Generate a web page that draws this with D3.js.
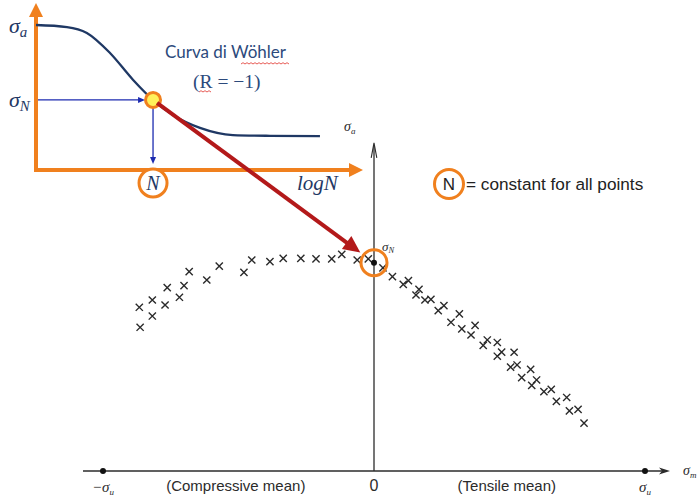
<!DOCTYPE html>
<html><head><meta charset="utf-8">
<script src="https://cdn.jsdelivr.net/npm/d3@7"></script>
<style>html,body{margin:0;padding:0;background:#fff;} svg{display:block}</style>
</head><body>
<script>
// Haigh diagram: stress amplitude vs. mean stress, all points at the same life N,
// with an inset Wöhler curve (R = -1) giving the amplitude sigma_N.

// mean stress / sigma_u and amplitude / sigma_N, compressive side
const compressiveMean = [-0.866, -0.818, -0.771, -0.818, -0.863, -0.763, -0.701, -0.718, -0.682, -0.617,
  -0.571, -0.480, -0.451, -0.384, -0.335, -0.270, -0.214, -0.156, -0.119, -0.062, -0.021];
const compressiveAmp = [0.786, 0.821, 0.797, 0.744, 0.690, 0.880, 0.890, 0.834, 0.957, 0.917,
  0.984, 0.954, 1.013, 1.005, 1.021, 1.021, 1.018, 1.018, 1.040, 1.013, 1.018];

// tensile side
const tensileMean = [0.033, 0.068, 0.108, 0.127, 0.166, 0.155, 0.188, 0.210, 0.237, 0.258,
  0.284, 0.315, 0.324, 0.358, 0.373, 0.403, 0.418, 0.455, 0.455, 0.471,
  0.517, 0.504, 0.528, 0.545, 0.578, 0.582, 0.600, 0.627, 0.654, 0.673,
  0.711, 0.721, 0.753, 0.775];
const tensileAmp = [0.975, 0.933, 0.896, 0.914, 0.872, 0.845, 0.821, 0.824, 0.770, 0.794,
  0.714, 0.754, 0.682, 0.653, 0.699, 0.603, 0.629, 0.617, 0.551, 0.571,
  0.570, 0.499, 0.509, 0.448, 0.488, 0.411, 0.437, 0.381, 0.392, 0.334,
  0.353, 0.289, 0.296, 0.230];

// Wöhler curve (inset): log N against amplitude
const wohlerLogN = [0, 0.95, 1.56, 2.27, 2.98, 3.59, 4.20, 5.03, 6.04, 7.18, 8.71];
const wohlerSigma = [1, 0.986, 0.945, 0.807, 0.621, 0.483, 0.379, 0.290, 0.241, 0.236, 0.234];
const lifeIndex = 5;          // the chosen life N on the curve
const sigmaN = 1;             // amplitude at zero mean stress (units of sigma_N)

const meanTicks = [-1, 0, 1];
const meanTickLabels = [["−σ", "u"], ["0", ""], ["σ", "u"]];
const regionCenters = [-0.51, 0.49];
const regionLabels = ["(Compressive mean)", "(Tensile mean)"];

const W = 699, H = 499;
const orange = "#f0801e", navy = "#1f3864", blue = "#1c2bb0", red = "#b3191a",
      yellow = "#fff05a", ink = "#2b2b2b";
const mathFont = "'Liberation Serif', 'DejaVu Serif', serif";
const sansFont = "'Liberation Sans', Arial, sans-serif";

const svg = d3.select("body").append("svg").attr("width", W).attr("height", H);
svg.append("rect").attr("width", W).attr("height", H).attr("fill", "#fff");

// ---------- main Haigh diagram ----------
const x = d3.scaleLinear().domain([-1, 1]).range([103, 645]);
const y = d3.scaleLinear().domain([0, 1]).range([471, 262.7]);
const main = svg.append("g");

// horizontal (mean stress) axis
const x0 = x.range()[0] - 20, x1 = x.range()[1] + 25;
main.append("line").attr("x1", x0).attr("x2", x1 - 6).attr("y1", y(0)).attr("y2", y(0))
  .attr("stroke", ink).attr("stroke-width", 1.3);
main.append("path")
  .attr("d", `M${x1},${y(0)} L${x1 - 11},${y(0) - 3.5} L${x1 - 8},${y(0)} L${x1 - 11},${y(0) + 3.5} Z`)
  .attr("fill", ink);

// vertical (amplitude) axis
const yTop = y(1.575);
main.append("line").attr("x1", x(0)).attr("x2", x(0)).attr("y1", y(0)).attr("y2", yTop + 2)
  .attr("stroke", ink).attr("stroke-width", 1.3);
main.append("path")
  .attr("d", `M${x(0) - 2.8},${yTop + 15} L${x(0)},${yTop} L${x(0) + 2.8},${yTop + 15}`)
  .attr("fill", "none").attr("stroke", ink).attr("stroke-width", 1.1);

// end points at ±sigma_u
main.selectAll("circle.end").data([-1, 1]).join("circle").attr("class", "end")
  .attr("cx", d => x(d)).attr("cy", y(0)).attr("r", 3).attr("fill", "#111");

// tick labels under the axis
const tickG = main.selectAll("text.tick").data(meanTicks).join("text").attr("class", "tick")
  .attr("x", d => x(d)).attr("y", 492).attr("text-anchor", "middle").attr("fill", ink);
tickG.each(function (d, i) {
  const t = d3.select(this);
  const [base, sub] = meanTickLabels[i];
  if (sub) {
    t.attr("font-family", mathFont).attr("font-style", "italic").attr("font-size", 15);
    t.append("tspan").text(base);
    t.append("tspan").attr("font-size", 9).attr("dy", 3).text(sub);
  } else {
    t.attr("font-family", sansFont).attr("font-size", 16).attr("y", 491).text(base);
  }
});
main.selectAll("text.region").data(regionLabels).join("text").attr("class", "region")
  .attr("x", (d, i) => x(regionCenters[i])).attr("y", 491).attr("text-anchor", "middle")
  .attr("font-family", sansFont).attr("font-size", 15).attr("fill", ink).text(d => d);

// axis names
const saLabel = main.append("text").attr("x", 344).attr("y", 131)
  .attr("font-family", mathFont).attr("font-style", "italic").attr("font-size", 14).attr("fill", ink);
saLabel.append("tspan").text("σ");
saLabel.append("tspan").attr("font-size", 9).attr("dy", 3).text("a");
const smLabel = main.append("text").attr("x", x1 + 13).attr("y", y(0) + 4)
  .attr("font-family", mathFont).attr("font-style", "italic").attr("font-size", 14).attr("fill", ink);
smLabel.append("tspan").text("σ");
smLabel.append("tspan").attr("font-size", 9).attr("dy", 3).text("m");

// test points as x marks
const pts = compressiveMean.map((m, i) => [m, compressiveAmp[i]])
  .concat(tensileMean.map((m, i) => [m, tensileAmp[i]]));
const s = 3.6;
main.append("g").selectAll("path").data(pts).join("path")
  .attr("d", d => {
    const cx = x(d[0]), cy = y(d[1]);
    return `M${cx - s},${cy - s}L${cx + s},${cy + s}M${cx - s},${cy + s}L${cx + s},${cy - s}`;
  })
  .attr("stroke", "#2a2a2a").attr("stroke-width", 1.4).attr("fill", "none");

// sigma_N point at zero mean
const pN = [x(0), y(sigmaN)];
main.append("circle").attr("cx", pN[0]).attr("cy", pN[1]).attr("r", 3).attr("fill", "#111");
const snLabel = main.append("text").attr("x", pN[0] + 8).attr("y", pN[1] - 12)
  .attr("font-family", mathFont).attr("font-style", "italic").attr("font-size", 13).attr("fill", ink);
snLabel.append("tspan").text("σ");
snLabel.append("tspan").attr("font-size", 8.5).attr("dy", 2).text("N");

// legend: circled N = constant
const leg = svg.append("g").attr("transform", "translate(449,184)");
leg.append("circle").attr("r", 14.5).attr("fill", "#fff").attr("stroke", orange).attr("stroke-width", 3);
leg.append("text").attr("y", 6).attr("text-anchor", "middle").attr("font-family", sansFont)
  .attr("font-size", 17).attr("fill", "#222").text("N");
leg.append("text").attr("x", 17).attr("y", 6).attr("font-family", sansFont)
  .attr("font-size", 17.2).attr("fill", "#222").text("= constant for all points");

// ---------- inset Wöhler curve ----------
const xW = d3.scaleLinear().domain([0, 10]).range([36, 362]);
const yW = d3.scaleLinear().domain([0, 1]).range([170, 25]);
const inset = svg.append("g");

// orange axes with arrowheads
inset.append("line").attr("x1", xW(0)).attr("x2", xW(0)).attr("y1", yW(0) + 2).attr("y2", 14)
  .attr("stroke", orange).attr("stroke-width", 4);
inset.append("path").attr("d", `M${xW(0)},3 L${xW(0) - 7},17 L${xW(0) + 7},17 Z`).attr("fill", orange);
inset.append("line").attr("x1", xW(0) - 2).attr("x2", xW(10) - 12).attr("y1", yW(0)).attr("y2", yW(0))
  .attr("stroke", orange).attr("stroke-width", 4);
inset.append("path").attr("d", `M${xW(10) + 1},${yW(0)} L${xW(10) - 13},${yW(0) - 7} L${xW(10) - 13},${yW(0) + 7} Z`)
  .attr("fill", orange);

// curve
const curvePts = wohlerLogN.map((n, i) => [xW(n), yW(wohlerSigma[i])]);
inset.append("path").attr("d", d3.line().curve(d3.curveMonotoneX)(curvePts))
  .attr("fill", "none").attr("stroke", navy).attr("stroke-width", 2.3);

const pw = curvePts[lifeIndex];

// blue reading arrows: sigma_N to the curve, curve down to N
function arrow(g, xa, ya, xb, yb, color, width, len, half) {
  const a = Math.atan2(yb - ya, xb - xa), c = Math.cos(a), sn = Math.sin(a);
  g.append("line").attr("x1", xa).attr("y1", ya).attr("x2", xb - c * len * 0.8).attr("y2", yb - sn * len * 0.8)
    .attr("stroke", color).attr("stroke-width", width);
  const bx = xb - c * len, by = yb - sn * len;
  g.append("path").attr("d", `M${xb},${yb} L${bx - sn * half},${by + c * half} L${bx + sn * half},${by - c * half} Z`)
    .attr("fill", color);
}
arrow(inset, xW(0) + 2, pw[1], pw[0] - 8, pw[1], blue, 1.3, 7, 3);
arrow(inset, pw[0], pw[1] + 8, pw[0], yW(0) - 6, blue, 1.3, 7, 3);

// red arrow carrying sigma_N into the Haigh diagram
{
  const dx = pN[0] - pw[0], dy = pN[1] - pw[1], L = Math.hypot(dx, dy);
  const tip = [pN[0] - dx / L * 17, pN[1] - dy / L * 17];
  arrow(svg, pw[0] + 4, pw[1] + 3, tip[0], tip[1], red, 4, 17, 8);
}
svg.append("circle").attr("cx", pN[0]).attr("cy", pN[1]).attr("r", 13)
  .attr("fill", "none").attr("stroke", orange).attr("stroke-width", 3);

// highlighted point on the curve
inset.append("circle").attr("cx", pw[0]).attr("cy", pw[1]).attr("r", 7.5)
  .attr("fill", yellow).attr("stroke", orange).attr("stroke-width", 3);

// circled N on the log N axis
inset.append("circle").attr("cx", pw[0]).attr("cy", 183).attr("r", 14)
  .attr("fill", "#fff").attr("stroke", orange).attr("stroke-width", 3);
inset.append("text").attr("x", pw[0]).attr("y", 190).attr("text-anchor", "middle")
  .attr("font-family", mathFont).attr("font-style", "italic").attr("font-size", 20).attr("fill", navy).text("N");

// inset labels
function mathLabel(xp, yp, base, sub, size) {
  const t = inset.append("text").attr("x", xp).attr("y", yp).attr("font-family", mathFont)
    .attr("font-style", "italic").attr("font-size", size).attr("fill", navy);
  t.append("tspan").text(base);
  if (sub) t.append("tspan").attr("font-size", size * 0.68).attr("dy", size * 0.18).text(sub);
}
mathLabel(9, 33, "σ", "a", 22);
mathLabel(9, 107, "σ", "N", 22);
mathLabel(297, 190, "logN", "", 21);

inset.append("text").attr("x", 165).attr("y", 58).attr("font-family", "Lato, 'Open Sans', sans-serif")
  .attr("font-size", 17).attr("fill", "#2c4a7c").text("Curva di Wöhler");
inset.append("text").attr("x", 193).attr("y", 88).attr("font-family", mathFont)
  .attr("font-size", 19.5).attr("fill", "#2c4a7c").text("(R = −1)");

// spell-check squiggles
function squiggle(xa, xb, yp) {
  let d = `M${xa},${yp}`, up = true;
  for (let xx = xa + 2; xx <= xb; xx += 2) { d += ` L${xx},${yp + (up ? -1.3 : 0)}`; up = !up; }
  inset.append("path").attr("d", d).attr("fill", "none").attr("stroke", "#e0302a").attr("stroke-width", 0.8);
}
squiggle(241, 290, 64);
squiggle(199, 212, 92);
</script>
</body></html>
